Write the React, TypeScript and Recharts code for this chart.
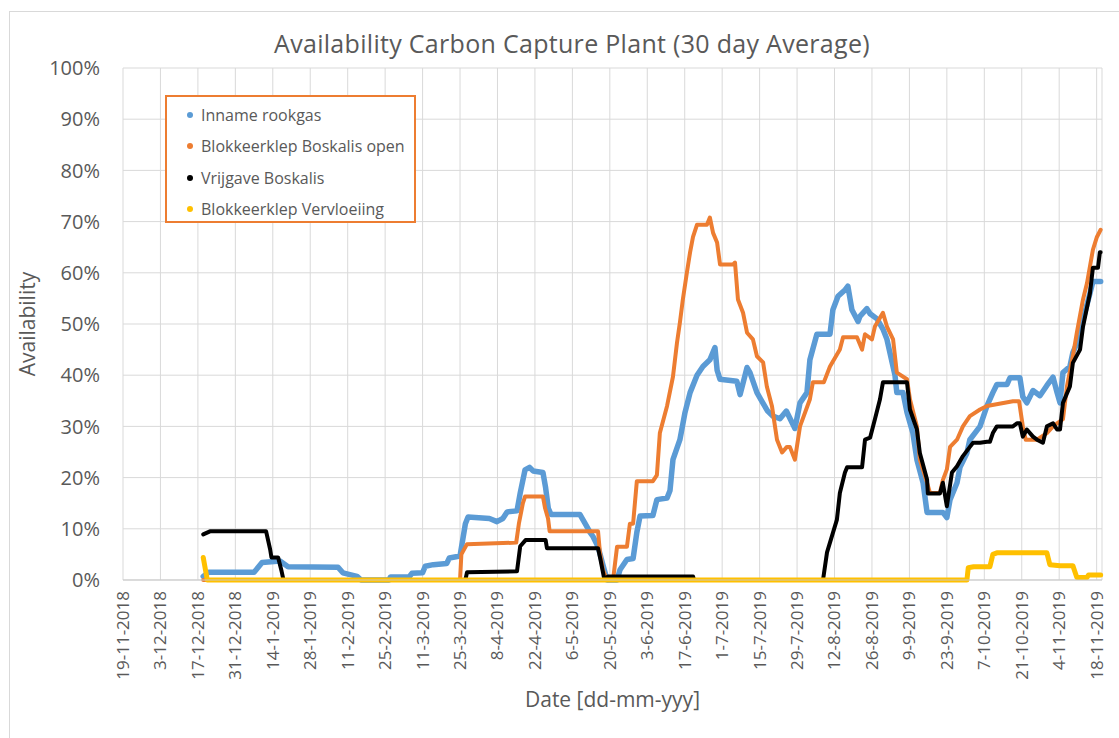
import React from "react"
import {
  LineChart,
  Line,
  XAxis,
  YAxis,
  CartesianGrid,
  Legend,
} from "recharts"

// x = days since 19-11-2018
const xTicks = [
  0, 14, 28, 42, 56, 70, 84, 98, 112, 126, 140, 154, 168, 182, 196, 210, 224,
  238, 252, 266, 280, 294, 308, 322, 336, 350, 364,
]
const xTickLabels = [
  "19-11-2018", "3-12-2018", "17-12-2018", "31-12-2018", "14-1-2019",
  "28-1-2019", "11-2-2019", "25-2-2019", "11-3-2019", "25-3-2019", "8-4-2019",
  "22-4-2019", "6-5-2019", "20-5-2019", "3-6-2019", "17-6-2019", "1-7-2019",
  "15-7-2019", "29-7-2019", "12-8-2019", "26-8-2019", "9-9-2019", "23-9-2019",
  "7-10-2019", "21-10-2019", "4-11-2019", "18-11-2019",
]
const yTicks = [0, 10, 20, 30, 40, 50, 60, 70, 80, 90, 100]

// Inname rookgas
const rookgasDays = [
  30, 32, 49, 52, 58.7, 61.7, 80.4, 82.2, 87.5, 89, 99.5, 100, 107, 108, 112,
  113, 116, 121, 122, 126, 128, 129, 137, 139.8, 142, 143.6, 147.3, 148.5,
  150.3, 152, 153.3, 157, 158, 159, 160, 170.8, 173, 174.6, 175.7, 177.6,
  179.4, 181, 184.7, 185.8, 188.4, 190.7, 192.1, 193.3, 198.1, 199.6, 203.4,
  204.5, 205.6, 208.2, 210.1, 212, 214.6, 216.8, 219.4, 221.3, 222.1, 223.2,
  229.5, 230.7, 233.3, 234.4, 237, 239.3, 241, 243, 245.6, 248, 251.2, 253.1,
  255.7, 256.8, 259.4, 264.3, 265.4, 267.3, 270, 271, 272.5, 274.8, 275.5,
  278.1, 279.3, 281.9, 284.1, 285.6, 288.6, 289.3, 291.6, 293.1, 295.3, 296.8,
  299.1, 300.6, 306.5, 308, 309.2, 311.8, 312.9, 315.5, 316.6, 320.4, 323,
  325.2, 326.7, 330.5, 331.6, 335.3, 336.4, 337.9, 340.2, 342.8, 345.4, 347.7,
  349.2, 350.3, 351.4, 354, 355.1, 357.8, 358.9, 361.5, 362.6, 365.5,
]
const rookgasValues = [
  0.7, 1.5, 1.5, 3.4, 3.7, 2.6, 2.5, 1.4, 0.7, 0, 0, 0.6, 0.6, 1.3, 1.4, 2.7,
  3.0, 3.2, 4.3, 4.7, 11, 12.3, 12, 11.4, 12, 13.3, 13.5, 17, 21.5, 22, 21.3,
  21, 18, 14, 12.8, 12.8, 10.8, 9.3, 8.5, 6.5, 3, 0, 0, 2, 4, 4.2, 9.3, 12.5,
  12.6, 15.7, 16, 17.5, 23.5, 27.4, 32.7, 36.6, 40, 41.7, 43, 45.4, 41, 39.2,
  38.8, 36.2, 41.5, 40.5, 36.6, 34.5, 33, 32, 31.5, 33, 29.6, 34.6, 36.6, 43,
  48, 48, 52.8, 55.4, 56.7, 57.4, 52.8, 50.5, 51.5, 53, 52, 51, 49, 47, 40,
  36.6, 36.6, 32.7, 28.7, 23.5, 19, 13.2, 13.2, 12.2, 15.7, 19, 22, 24.8,
  27.4, 30, 34, 36.6, 38.2, 38.2, 39.5, 39.5, 35.8, 34.6, 37, 36, 38, 39.6,
  36.6, 34.6, 40.5, 41.7, 44.4, 47.6, 50.8, 56, 58.3, 58.3,
]

// Blokkeerklep Boskalis open
const boskalisOpenDays = [
  30, 126, 126.5, 128.6, 147, 148, 149.5, 150.3, 157, 157.8, 158.9, 159.5,
  177.6, 178.3, 179.4, 181, 183.2, 184.7, 188.4, 189.5, 190.7, 192.1, 198.1,
  199.6, 200.7, 203.4, 205.6, 207.1, 208.2, 209.3, 210.8, 212, 213.1, 214.6,
  218.3, 219.4, 220.6, 222.1, 223.2, 228, 228.8, 229.9, 231.8, 233.3, 235.5,
  237, 239.3, 240.7, 242.6, 244.5, 246.4, 248.2, 249.3, 251.2, 253.1, 256.8,
  257.9, 262, 264.3, 268, 269.2, 274.4, 276.3, 277.4, 280, 281.1, 284.1, 285.6,
  287.9, 289.3, 293.1, 294.2, 296.8, 297.9, 300.6, 301.7, 305.4, 306.5, 308,
  309.2, 311.8, 314, 316.6, 320.4, 323, 332.7, 335, 336.4, 337.5, 341.7, 345.4,
  347.7, 351.4, 352.9, 355.1, 356.6, 358.9, 360.4, 362.6, 364.1, 365.5,
]
const boskalisOpenValues = [
  0, 0, 5, 7, 7.3, 11, 15, 16.3, 16.3, 14, 12, 9.5, 9.5, 5.4, 2, 0, 0, 6.5,
  6.5, 11, 11, 19.3, 19.3, 20.5, 28.7, 34, 39.7, 46.3, 50.3, 54.8, 60, 64, 67,
  69.4, 69.4, 70.8, 67.8, 65.9, 61.6, 61.6, 62, 54.8, 52.2, 48.3, 47, 43.7,
  42.5, 37.8, 34, 27.4, 24.9, 26, 26, 23.5, 30, 35.3, 38.6, 38.6, 41.7, 45,
  47.4, 47.4, 45, 48, 47, 49.5, 52.2, 49.5, 47, 40.5, 39.2, 35.3, 30, 23.5, 19,
  17, 17, 19.5, 21.6, 26, 27.4, 30, 32, 33.3, 34, 34.9, 34.9, 30, 27.4, 27.4,
  28.7, 30, 31.4, 37.8, 43.7, 48.3, 54.8, 58, 64.5, 67, 68.4,
]

// Vrijgave Boskalis
const vrijgaveDays = [
  30, 32.5, 53.5, 55, 55.5, 58, 59.3, 60, 128, 128.6, 147.3, 148.5, 150.5, 158,
  158.5, 177.6, 178.5, 180, 181.3, 213.1, 213.5, 261.7, 263.2, 266.9, 268,
  269.9, 270.7, 276.3, 277.4, 279.3, 281.1, 283, 284.1, 293.1, 294.2, 296.8,
  297.9, 300.6, 300.9, 305.4, 306.5, 308, 309.9, 311.8, 314, 316.6, 317.8,
  320.4, 323, 324.1, 325.2, 326.7, 332.7, 334.2, 335.3, 336.4, 337.9, 340.2,
  341.7, 343.9, 345.4, 347.7, 349.2, 350.3, 351.4, 354, 355.1, 357.8, 358.9,
  361.5, 362.6, 364.5, 365.2, 365.5,
]
const vrijgaveValues = [
  8.9, 9.5, 9.5, 6, 4.4, 4.4, 1.7, 0, 0, 1.5, 1.7, 6.6, 7.8, 7.8, 6.2, 6.2, 4,
  0, 0.7, 0.7, 0, 0, 5.4, 11.8, 17, 21, 22, 22, 27.4, 27.8, 31.4, 35.3, 38.6,
  38.6, 33.3, 29.4, 24.8, 19.6, 16.9, 16.9, 19, 14.4, 21, 22.2, 24.2, 26, 26.8,
  26.8, 27, 27, 28.7, 30, 30, 30.6, 30.6, 28, 29.4, 28, 27.4, 26.8, 30, 30.6,
  29.4, 29.4, 34.6, 37.8, 42.4, 45, 49.5, 56, 61, 61, 64, 64,
]

// Blokkeerklep Vervloeiing
const vervloeiingDays = [
  30, 31, 31.5, 315.5, 316, 318, 324.1, 325.2, 326.7, 345.4, 346.5, 350.3,
  355.1, 356.6, 360.4, 361, 365.5,
]
const vervloeiingValues = [
  4.4, 1.5, 0, 0, 2.4, 2.6, 2.6, 5, 5.3, 5.3, 3, 2.8, 2.8, 0.5, 0.5, 1, 1,
]

const toRows = (days: number[], values: number[]) =>
  days.map((d, i) => ({ day: d, value: values[i] }))

const series = [
  { name: "Inname rookgas", color: "#5B9BD5", width: 5.5, data: toRows(rookgasDays, rookgasValues) },
  { name: "Blokkeerklep Boskalis open", color: "#ED7D31", width: 4, data: toRows(boskalisOpenDays, boskalisOpenValues) },
  { name: "Vrijgave Boskalis", color: "#000000", width: 4, data: toRows(vrijgaveDays, vrijgaveValues) },
  { name: "Blokkeerklep Vervloeiing", color: "#FFC000", width: 5, data: toRows(vervloeiingDays, vervloeiingValues) },
]

const FONT = "'Open Sans', sans-serif"
const TEXT = "#595959"

function DateTick(props: any) {
  const { x, y, payload } = props
  const idx = xTicks.indexOf(payload.value)
  return (
    <text
      transform={`translate(${x},${y}) rotate(-90)`}
      textAnchor="end"
      dy="0.35em"
      fontSize={17}
      fontFamily={FONT}
      fill={TEXT}
    >
      {xTickLabels[idx]}
    </text>
  )
}

function YTitle(props: any) {
  const { viewBox } = props
  const cx = viewBox.x - 25
  const cy = viewBox.y + viewBox.height / 2
  return (
    <text
      transform={`translate(${cx},${cy}) rotate(-90)`}
      textAnchor="middle"
      dy="0.35em"
      fontSize={21}
      fontFamily={FONT}
      fill={TEXT}
    >
      Availability
    </text>
  )
}

function XTitle(props: any) {
  const { viewBox } = props
  return (
    <text
      x={viewBox.x + viewBox.width / 2}
      y={viewBox.y + 120}
      textAnchor="middle"
      dy="0.35em"
      fontSize={21}
      fontFamily={FONT}
      fill={TEXT}
    >
      Date [dd-mm-yyy]
    </text>
  )
}

function LegendBox() {
  return (
    <div
      style={{
        position: "absolute",
        left: 0,
        top: 0,
        width: 251,
        height: 128,
        border: "2px solid #ED7D31",
        background: "#fff",
        boxSizing: "border-box",
        paddingTop: 2,
        fontFamily: FONT,
        fontSize: 16,
        color: TEXT,
      }}
    >
      {series.map((s) => (
        <div
          key={s.name}
          style={{ display: "flex", alignItems: "center", height: 31.5 }}
        >
          <span
            style={{
              display: "inline-block",
              width: 6,
              height: 6,
              borderRadius: 3,
              background: s.color,
              marginLeft: 20,
              marginRight: 8,
            }}
          />
          <span>{s.name}</span>
        </div>
      ))}
    </div>
  )
}

export default function App() {
  return (
    <div
      style={{
        position: "absolute",
        left: 0,
        top: 0,
        width: 1119,
        height: 738,
        overflow: "hidden",
        background: "#fff",
      }}
    >
      {/* chart frame, cut off at the right and bottom like the source */}
      <div
        style={{
          position: "absolute",
          left: 9,
          top: 11,
          width: 1200,
          height: 800,
          border: "1px solid #D9D9D9",
        }}
      />
      <div
        style={{
          position: "absolute",
          left: 0,
          top: 26,
          width: 1144,
          textAlign: "center",
          fontFamily: FONT,
          fontSize: 25,
          color: TEXT,
          lineHeight: "34px",
          letterSpacing: 0.3,
        }}
      >
        Availability Carbon Capture Plant (30 day Average)
      </div>

      <div style={{ position: "absolute", left: 0, top: 0 }}>
        <LineChart
          width={1119}
          height={738}
          margin={{ top: 68, right: 17, bottom: 58, left: 53 }}
        >
          <CartesianGrid stroke="#D9D9D9" strokeWidth={1} />
          <XAxis
            dataKey="day"
            type="number"
            domain={[0, 366]}
            ticks={xTicks}
            interval={0}
            height={100}
            tickSize={0}
            tickMargin={11}
            tick={<DateTick />}
            axisLine={{ stroke: "#C9C9C9" }}
            allowDuplicatedCategory
            label={<XTitle />}
          />
          <YAxis
            type="number"
            domain={[0, 100]}
            ticks={yTicks}
            interval={0}
            width={70}
            tickSize={0}
            tickMargin={23}
            axisLine={false}
            tickLine={false}
            tickFormatter={(v: number) => `${v}%`}
            tick={{ fontSize: 20, fontFamily: FONT, fill: TEXT }}
            label={<YTitle />}
          />
          {series.map((s) => (
            <Line
              key={s.name}
              data={s.data}
              dataKey="value"
              name={s.name}
              type="linear"
              stroke={s.color}
              strokeWidth={s.width}
              strokeLinejoin="round"
              strokeLinecap="round"
              dot={false}
              activeDot={false}
              isAnimationActive={false}
            />
          ))}
          <Legend
            layout="vertical"
            align="center"
            verticalAlign="middle"
            wrapperStyle={{ left: 165, top: 95, width: 251, height: 128 }}
            content={() => <LegendBox />}
          />
        </LineChart>
      </div>
    </div>
  )
}
